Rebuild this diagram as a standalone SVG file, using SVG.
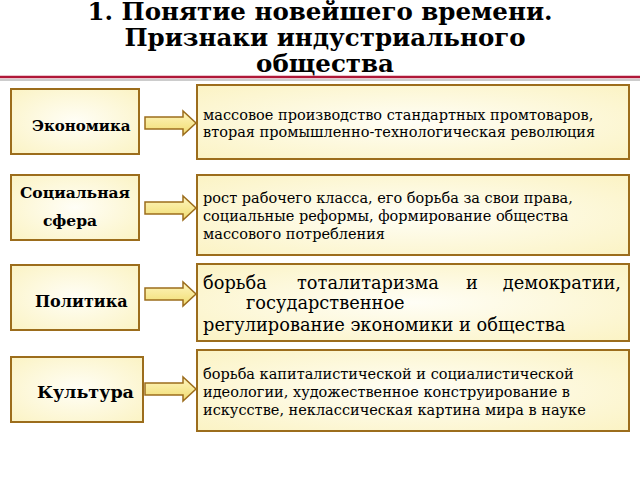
<svg xmlns="http://www.w3.org/2000/svg" width="640" height="480" viewBox="0 0 640 480">
<defs>
<radialGradient id="bg" cx="50%" cy="50%" r="70%"><stop offset="0" stop-color="#fffef6"/><stop offset="1" stop-color="#fbf3c4"/></radialGradient>
<linearGradient id="ag" x1="0" y1="0" x2="0" y2="1"><stop offset="0" stop-color="#fff6c0"/><stop offset="1" stop-color="#f0dc70"/></linearGradient>
<style>
.b{fill:url(#bg);stroke:#9c6d1c;stroke-width:2}
.a{fill:url(#ag);stroke:#9c6d1c;stroke-width:1.5}
.t{font-family:"DejaVu Serif","Liberation Serif",serif;fill:#000}
.h{font-weight:bold;font-size:15.5px}
.s{font-size:14.5px}
.p{font-size:17.8px}
</style>
</defs>
<rect width="640" height="480" fill="#fff"/>
<g id="title" font-weight="bold" font-size="24.5" text-anchor="middle">
<text x="320" y="20" class="t" fill="#222">1. Понятие новейшего времени.</text>
<text x="325" y="46" class="t" fill="#222">Признаки индустриального</text>
<text x="325" y="72" class="t" fill="#222">общества</text>
</g>
<line x1="0" y1="77" x2="640" y2="77" stroke="#b01838" stroke-width="2.5"/>
<line x1="0" y1="80" x2="640" y2="80" stroke="#ccc" stroke-width="2"/>
<g id="n1"><rect class="b" x="11" y="89" width="128" height="65"/><text class="t" font-weight="bold" font-size="15" x="32" y="131">Экономика</text></g>
<g id="n2"><rect class="b" x="11" y="175" width="128" height="65"/><text class="t h" x="75" y="198" text-anchor="middle">Социальная</text><text class="t h" x="70" y="226" text-anchor="middle">сфера</text></g>
<g id="n3"><rect class="b" x="11" y="265" width="128" height="65"/><text class="t" font-weight="bold" font-size="16" x="35" y="307">Политика</text></g>
<g id="n4"><rect class="b" x="11" y="357" width="132" height="65"/><text class="t" x="37" y="398" font-weight="bold" font-size="17.5">Культура</text></g>
<g id="r1"><rect class="b" x="197" y="85" width="432" height="74"/><text class="t s" x="203" y="120">массовое производство стандартных промтоваров,</text><text class="t s" x="203" y="137">вторая промышленно-технологическая революция</text></g>
<g id="r2"><rect class="b" x="197" y="175" width="432" height="80"/><text class="t s" x="203" y="203">рост рабочего класса, его борьба за свои права,</text><text class="t s" x="203" y="221">социальные реформы, формирование общества</text><text class="t s" x="203" y="239">массового потребления</text></g>
<g id="r3"><rect class="b" x="197" y="264" width="432" height="77"/>
<text class="t p" x="203" y="289">борьба</text><text class="t p" x="297" y="289">тоталитаризма</text><text class="t p" x="466" y="289">и</text><text class="t p" x="621" y="289" text-anchor="end">демократии,</text>
<text class="t p" x="246" y="309">государственное</text><text class="t p" x="203" y="331">регулирование экономики и общества</text></g>
<g id="r4"><rect class="b" x="197" y="350" width="432" height="81"/><text class="t s" x="203" y="379">борьба капиталистической и социалистической</text><text class="t s" x="203" y="397">идеологии, художественное конструирование в</text><text class="t s" x="203" y="415">искусстве, неклассическая картина мира в науке</text></g>
<g id="connectors">
<path class="a" d="M145,117 H183 V111 L196,123 L183,135 V129 H145 Z"/>
<path class="a" d="M145,202 H183 V196 L196,208 L183,220 V214 H145 Z"/>
<path class="a" d="M145,288 H183 V282 L196,294 L183,306 V300 H145 Z"/>
<path class="a" d="M145,383 H183 V377 L196,389 L183,401 V395 H145 Z"/>
</g>
</svg>
